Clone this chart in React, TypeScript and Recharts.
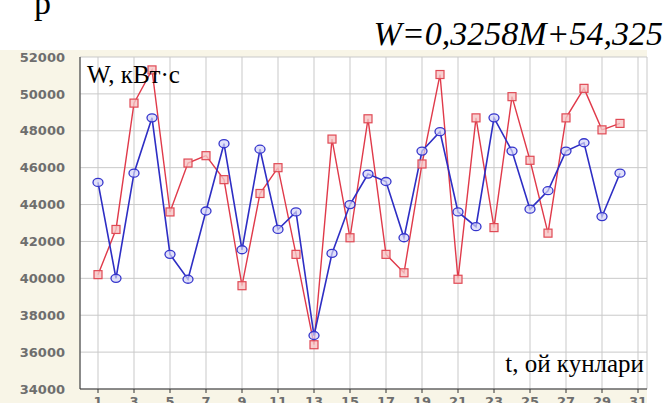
import { LineChart, Line, XAxis, YAxis, CartesianGrid } from "recharts";

// днi мiсяця
const days = [
  1, 2, 3, 4, 5, 6, 7, 8, 9, 10, 11, 12, 13, 14, 15, 16, 17, 18, 19, 20, 21, 22,
  23, 24, 25, 26, 27, 28, 29, 30,
];

// blue series (circles)
const blueW = [
  45200, 40000, 45700, 48700, 41300, 39950, 43650, 47300, 41550, 47000, 42650,
  43600, 36900, 41350, 44000, 45650, 45250, 42200, 46900, 47950, 43600, 42800,
  48700, 46900, 43750, 44750, 46900, 47350, 43350, 45700,
];

// red series (squares)
const redW = [
  40200, 42650, 49500, 51300, 43600, 46250, 46650, 45350, 39600, 44600, 46000,
  41300, 36400, 47550, 42200, 48650, 41300, 40300, 46200, 51050, 39950, 48700,
  42750, 49850, 46400, 42450, 48700, 50300, 48050, 48400,
];

const xTicks = [1, 3, 5, 7, 9, 11, 13, 15, 17, 19, 21, 23, 25, 27, 29, 31];
const yTicks = [34000, 36000, 38000, 40000, 42000, 44000, 46000, 48000, 50000, 52000];

const data = days.map((d, i) => ({ day: d, blue: blueW[i], red: redW[i] }));

const tickStyle = {
  fill: "#6e6e6e",
  fontFamily: "DejaVu Sans",
  fontWeight: "bold" as const,
  fontSize: 13,
};

function CircleDot(props: any) {
  const { cx, cy } = props;
  if (cx == null || cy == null) return null;
  return (
    <ellipse cx={cx} cy={cy} rx={5} ry={4} fill="#d4d4f6" fillOpacity={0.7} stroke="#3535cc" strokeWidth={1.3} />
  );
}

function SquareDot(props: any) {
  const { cx, cy } = props;
  if (cx == null || cy == null) return null;
  return (
    <rect x={cx - 4} y={cy - 4} width={8} height={8} fill="#f6c4c4" fillOpacity={0.8} stroke="#e04a55" strokeWidth={1.2} />
  );
}

export default function App() {
  return (
    <div style={{ position: "absolute", left: 0, top: 0, width: 666, height: 403, overflow: "hidden", background: "#fff" }}>
      <div style={{ position: "absolute", left: 0, top: 50, width: 647, height: 353, background: "#f8f5e7" }} />
      <div style={{ position: "absolute", left: 0, top: 0 }}>
        <LineChart width={666} height={420} data={data} margin={{ top: 57, right: 19, left: 0, bottom: 0 }}>
          <CartesianGrid fill="#fff" stroke="#c9c9c9" strokeWidth={1} />
          <XAxis
            dataKey="day"
            type="number"
            domain={[0, 31.5]}
            ticks={xTicks}
            interval={0}
            height={31}
            axisLine={{ stroke: "#333" }}
            tickLine={{ stroke: "#333" }}
            tickSize={4}
            tickMargin={4}
            tick={tickStyle}
          />
          <XAxis
            xAxisId="top"
            orientation="top"
            type="number"
            domain={[0, 31.5]}
            ticks={xTicks}
            interval={0}
            height={0}
            mirror
            axisLine={{ stroke: "#333" }}
            tickLine={{ stroke: "#333" }}
            tickSize={4}
            tickFormatter={() => ""}
          />
          <YAxis
            type="number"
            domain={[34000, 52000]}
            ticks={yTicks}
            interval={0}
            width={80}
            axisLine={{ stroke: "#333" }}
            tickLine={false}
            tickSize={0}
            tickMargin={15}
            tick={tickStyle}
          />
          <Line
            dataKey="red"
            stroke="#e03a4a"
            strokeWidth={1.4}
            dot={<SquareDot />}
            isAnimationActive={false}
          />
          <Line
            dataKey="blue"
            stroke="#2e2ec4"
            strokeWidth={1.6}
            dot={<CircleDot />}
            isAnimationActive={false}
          />
        </LineChart>
      </div>
      <svg width={666} height={403} style={{ position: "absolute", left: 0, top: 0, pointerEvents: "none" }}>
        <text x={34} y={14} fontFamily="Liberation Serif" fontSize={34} fill="#000">р</text>
        <text x={663} y={45} textAnchor="end" fontFamily="Liberation Serif" fontStyle="italic" fontSize={34} fill="#000">
          W=0,3258M+54,325
        </text>
        <text x={87} y={83} fontFamily="Liberation Serif" fontSize={25} fill="#000">W, кВт·с</text>
        <text x={644} y={372} textAnchor="end" fontFamily="Liberation Serif" fontSize={25} fill="#000">t, ой кунлари</text>
      </svg>
    </div>
  );
}
